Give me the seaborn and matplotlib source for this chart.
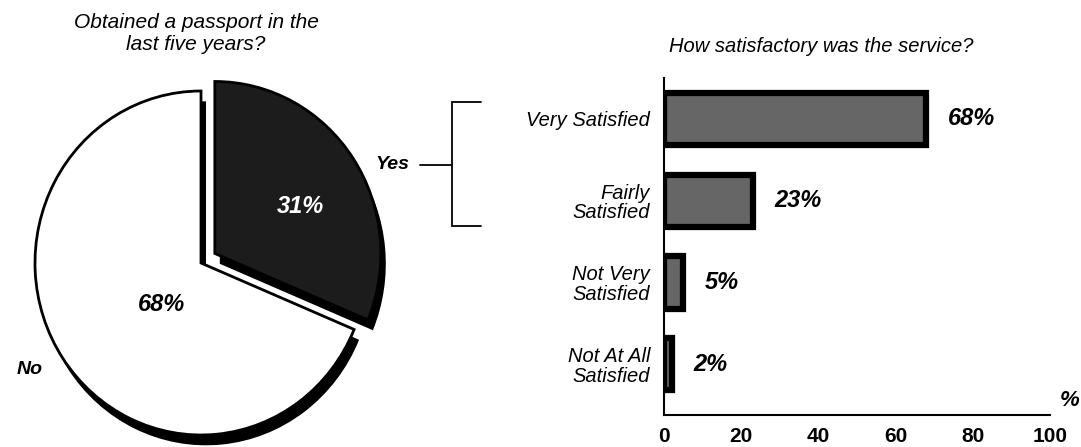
import matplotlib
matplotlib.use("Agg")
import matplotlib.pyplot as plt
import seaborn as sns
import pandas as pd
from matplotlib.lines import Line2D

# data
pie_labels = ["Yes", "No"]
pie_values = [31, 68]

levels = ["Very Satisfied", "Fairly\nSatisfied", "Not Very\nSatisfied", "Not At All\nSatisfied"]
level_pct = [68, 23, 5, 2]
x_ticks = [0, 20, 40, 60, 80, 100]

sns.set_style("white")
plt.rcParams["font.family"] = ["Liberation Sans", "DejaVu Sans"]
plt.rcParams["text.color"] = "black"

W, H = 1081, 447
fig = plt.figure(figsize=(W / 100, H / 100), dpi=100)


def fx(x):
    return x / W


def fy(y):
    return 1 - y / H


# ---- pie ----
cx, cy, rx, ry = 201, 263, 166, 172  # scan is slightly squashed sideways
ax_pie = fig.add_axes([0, 0, 400 / W, 1])
explode = [0.1, 0]
# offset black copy gives the drop shadow
ax_pie.pie(pie_values, startangle=90, counterclock=False, explode=explode,
           center=(0.03, -0.06), colors=["black", "black"],
           wedgeprops=dict(linewidth=0))
ax_pie.pie(pie_values, startangle=90, counterclock=False, explode=explode,
           colors=["#1c1c1c", "white"],
           wedgeprops=dict(edgecolor="black", linewidth=2))
ax_pie.set_aspect("auto")
ax_pie.set_xlim(-cx / rx, (400 - cx) / rx)
ax_pie.set_ylim((cy - H) / ry, cy / ry)
ax_pie.set_axis_off()

lab = dict(fontweight="bold", style="italic", ha="center", va="center")
ax_pie.text(1.15, 0.57, pie_labels[0], fontsize=14, **lab)
ax_pie.text(-1.03, -0.62, pie_labels[1], fontsize=14, **lab)
ax_pie.text(0.6, 0.33, f"{pie_values[0]}%", color="white", fontsize=17, **lab)
ax_pie.text(-0.24, -0.24, f"{pie_values[1]}%", fontsize=17, **lab)

fig.text(fx(196), fy(34), "Obtained a passport in the\nlast five years?",
         ha="center", va="center", fontsize=15, style="italic")

# bracket joining "Yes" to the bar chart
for xs, ys in [((420, 452), (165, 165)), ((452, 452), (102, 226)),
               ((452, 481), (102, 102)), ((452, 481), (226, 226))]:
    fig.add_artist(Line2D([fx(v) for v in xs], [fy(v) for v in ys],
                          color="black", linewidth=1.3))

# ---- bars ----
df = pd.DataFrame({"level": levels, "pct": level_pct})
ax = fig.add_axes([fx(664), fy(415), fx(1050) - fx(664), fy(78) - fy(415)])
sns.barplot(data=df, x="pct", y="level", orient="h", color="#666666",
            edgecolor="black", linewidth=4.5, width=0.64, saturation=1, ax=ax)
ax.set_xlim(0, 100)
ax.set_ylim(3.62, -0.5)
ax.set_xticks(x_ticks)
ax.set_xlabel("")
ax.set_ylabel("")
sns.despine(ax=ax)
for s in ["left", "bottom"]:
    ax.spines[s].set_color("black")
    ax.spines[s].set_linewidth(1.5)
ax.tick_params(axis="x", direction="out", length=6, width=1.5, colors="black",
               labelsize=15, pad=3)
ax.tick_params(axis="y", length=0, pad=10, labelsize=14.5, colors="black")
for t in ax.get_xticklabels():
    t.set_fontweight("bold")
for t in ax.get_yticklabels():
    t.set_style("italic")
    t.set_linespacing(1.05)

for i, v in enumerate(level_pct):
    ax.text(v + 5.5, i, f"{v}%", ha="left", va="center", fontsize=17,
            fontweight="bold", style="italic")

fig.text(fx(1070), fy(400), "%", ha="center", va="center", fontsize=16,
         fontweight="bold", style="italic")
fig.text(fx(821), fy(46), "How satisfactory was the service?", ha="center",
         va="center", fontsize=14.5, style="italic")

fig.savefig("out.png", dpi=100)
